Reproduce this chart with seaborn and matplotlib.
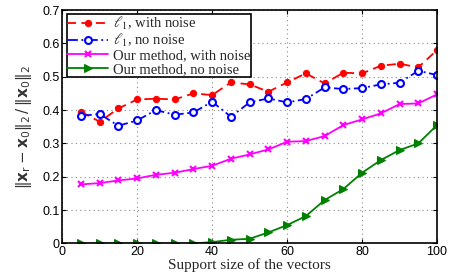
import numpy as np
import pandas as pd
import matplotlib
matplotlib.use("Agg")
import matplotlib.pyplot as plt
import seaborn as sns

# support sizes
support = [5, 10, 15, 20, 25, 30, 35, 40, 45, 50, 55, 60, 65, 70, 75, 80, 85, 90, 95, 100]

l1_noise = [0.395, 0.365, 0.405, 0.432, 0.434, 0.432, 0.450, 0.445, 0.483, 0.477,
            0.455, 0.483, 0.510, 0.480, 0.512, 0.510, 0.533, 0.539, 0.528, 0.580]
l1_clean = [0.383, 0.388, 0.353, 0.369, 0.400, 0.386, 0.393, 0.425, 0.380, 0.423,
            0.435, 0.423, 0.433, 0.468, 0.463, 0.466, 0.477, 0.482, 0.518, 0.505]
ours_noise = [0.177, 0.181, 0.189, 0.195, 0.206, 0.212, 0.223, 0.233, 0.254, 0.267,
              0.282, 0.305, 0.307, 0.322, 0.355, 0.372, 0.390, 0.418, 0.420, 0.447]
ours_clean = [0.0, 0.0, 0.0, 0.0, 0.0, 0.0, 0.0, 0.004, 0.011, 0.014,
              0.033, 0.055, 0.082, 0.130, 0.163, 0.212, 0.250, 0.280, 0.300, 0.355]

labels = [r"$\ell_1$, with noise", r"$\ell_1$, no noise",
          "Our method, with noise", "Our method, no noise"]

sns.set_style("whitegrid")
plt.rcParams["mathtext.fontset"] = "stix"

fig = plt.figure(figsize=(4.61, 2.72), dpi=100)
ax = fig.add_axes([0.135, 0.105, 0.813, 0.858])

styles = [
    dict(color="red", linestyle=(0, (5, 3)), marker="o", markersize=4.5,
         markerfacecolor="red", markeredgecolor="red"),
    dict(color="blue", linestyle=(0, (6, 2, 1, 2)), marker="o", markersize=5,
         markerfacecolor="white", markeredgecolor="blue", markeredgewidth=1.5),
    dict(color="magenta", linestyle="-", marker="x", markersize=5,
         markeredgecolor="magenta", markeredgewidth=1.5),
    dict(color="green", linestyle="-", marker=">", markersize=6,
         markerfacecolor="green", markeredgecolor="green"),
]
series = [l1_noise, l1_clean, ours_noise, ours_clean]

for vals, lab, st in zip(series, labels, styles):
    df = pd.DataFrame({"support": support, "err": vals})
    sns.lineplot(data=df, x="support", y="err", ax=ax, label=lab,
                 linewidth=1.3, **st)

ax.set_xlim(0, 100)
ax.set_ylim(0, 0.7)
ax.set_xticks([0, 20, 40, 60, 80, 100])
ax.set_yticks([0, 0.1, 0.2, 0.3, 0.4, 0.5, 0.6, 0.7])
ax.set_yticklabels(["0", "0.1", "0.2", "0.3", "0.4", "0.5", "0.6", "0.7"])
ax.grid(True, linestyle=(0, (1, 3)), color="#888888", linewidth=0.8)
for sp in ax.spines.values():
    sp.set_color("black")
    sp.set_linewidth(1.2)
ax.tick_params(direction="in", length=3, labelsize=9, pad=2,
               top=True, right=True, bottom=True, left=True, colors="black")
for t in ax.get_xticklabels() + ax.get_yticklabels():
    t.set_family("Liberation Sans")

ax.set_xlabel("Support size of the vectors", family="Liberation Serif",
              fontsize=11, labelpad=0)
ax.set_ylabel(r"$\Vert\mathbf{x}_{\mathrm{r}}-\mathbf{x}_0\Vert_2\,/\,\Vert\mathbf{x}_0\Vert_2$",
              fontsize=11, labelpad=6, math_fontfamily="dejavusans", color="#333333")

leg = ax.legend(loc="upper left", frameon=True, fancybox=False, framealpha=1,
                edgecolor="black", borderpad=0.05, labelspacing=0.0,
                handlelength=2.8, handletextpad=0.3, borderaxespad=0.3,
                prop={"family": "Liberation Serif", "size": 10.5})
leg.get_frame().set_linewidth(1.2)

fig.savefig("out.png", dpi=100)
